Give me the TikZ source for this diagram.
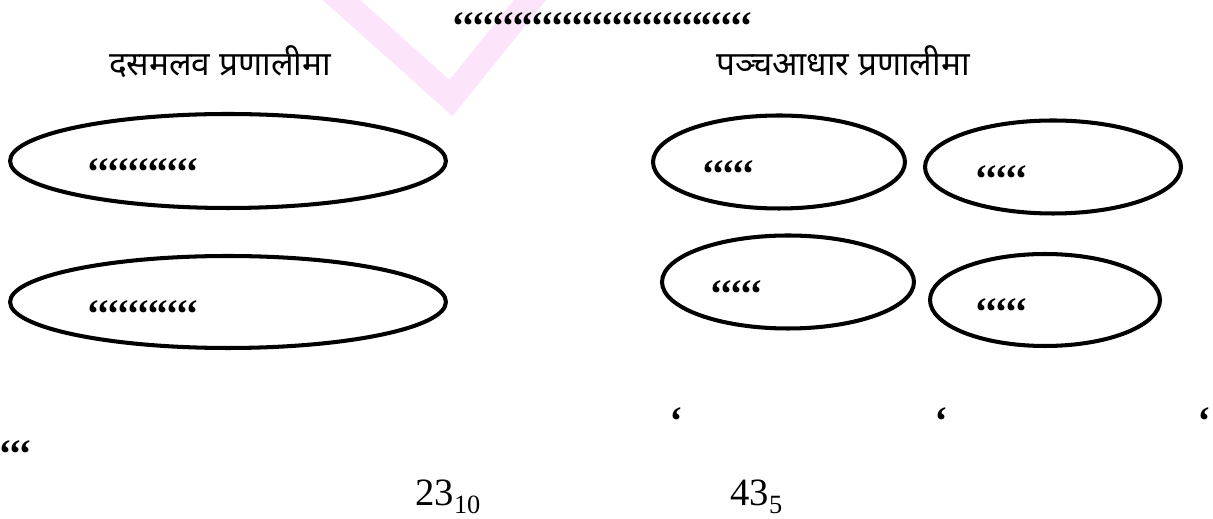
\documentclass[tikz,border=0pt]{standalone}
\usepackage{fontspec}
\setmainfont{Liberation Serif}
\newfontfamily\devfont[Script=Devanagari]{Noto Sans}
\usetikzlibrary{shapes.geometric}
\definecolor{wmpink}{RGB}{252,228,250}
\newcommand{\tickrow}[1]{\foreach \i in {1,...,#1}{‘\kern-2pt}}
\newcommand{\numbase}[2]{#1\raisebox{-4pt}{\fontsize{15}{15}\selectfont #2}}
\tikzset{
  ov/.style={ellipse, draw=black, line width=2.3pt, inner sep=0pt},
  tk/.style={font=\bfseries\itshape\fontsize{23}{23}\selectfont, anchor=base west, inner sep=0pt},
  hd/.style={font=\devfont\fontsize{19}{22}\selectfont, anchor=base, inner sep=0pt},
  nm/.style={font=\fontsize{22}{22}\selectfont, anchor=base west, inner sep=0pt},
  wm/.style={draw=wmpink, line width=0.5cm, line join=miter}
}

\begin{document}
\begin{tikzpicture}[x=0.02cm, y=-0.02cm]
  \useasboundingbox (0,0) rectangle (1213,519);
  \clip (0,0) rectangle (1213,519);

  % faint mark behind
  \draw[wm] (319,-20) -- (451,98) -- (546,-20);

  % top line
  \node[tk] (toptxt) at (450,40) {\tickrow{30}};

  % headings
  \node[hd] (dechd) at (220,76) {दसमलव प्रणालीमा};
  \node[hd] (penhd) at (843,76) {पञ्चआधार प्रणालीमा};

  % decimal side
  \node[ov, minimum width=8.72cm, minimum height=1.88cm] (dec1) at (228,161) {};
  \node[ov, minimum width=8.72cm, minimum height=1.84cm] (dec2) at (228,302) {};
  \node[tk] (dec1txt) at (85,186) {\tickrow{11}};
  \node[tk] (dec2txt) at (85,328) {\tickrow{11}};

  % base five side
  \node[ov, minimum width=5.04cm, minimum height=1.86cm] (pen1) at (779,162) {};
  \node[ov, minimum width=5.12cm, minimum height=1.86cm] (pen2) at (1053,167) {};
  \node[ov, minimum width=5.04cm, minimum height=1.86cm] (pen3) at (788,282) {};
  \node[ov, minimum width=4.60cm, minimum height=1.84cm] (pen4) at (1045,300) {};
  \node[tk] (pen1txt) at (700,188) {\tickrow{5}};
  \node[tk] (pen2txt) at (973,193) {\tickrow{5}};
  \node[tk] (pen3txt) at (708,308) {\tickrow{5}};
  \node[tk] (pen4txt) at (973,326) {\tickrow{5}};

  % loose marks
  \node[tk] (m1) at (668,435) {\tickrow{1}};
  \node[tk] (m2) at (933,435) {\tickrow{1}};
  \node[tk] (m3) at (1196,435) {\tickrow{1}};
  \node[tk] (m4) at (-3,468) {\tickrow{3}};

  % numbers
  \node[nm] (num10) at (415,506) {\numbase{23}{10}};
  \node[nm] (num5) at (730,506) {\numbase{43}{5}};
\end{tikzpicture}
\end{document}
